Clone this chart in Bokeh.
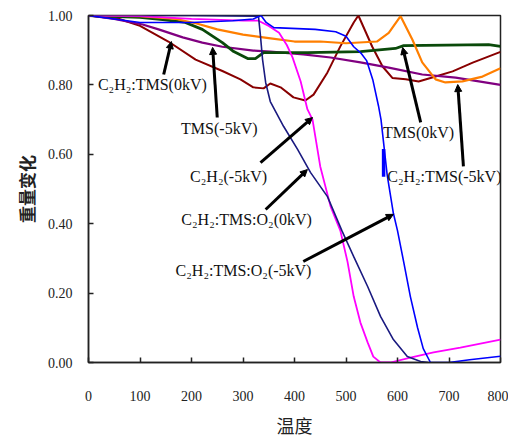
from bokeh.plotting import figure
from bokeh.models import ColumnDataSource, Arrow, NormalHead, FixedTicker, PrintfTickFormatter, Range1d
from bokeh.core.properties import value
from bokeh.embed import file_html
from bokeh.resources import INLINE

# ---- data (temperature, weight-change fraction) ----
red_t = [0, 60, 100, 155, 208, 260, 295, 320, 340, 353, 373, 398, 421, 437, 464, 489, 515, 524, 551, 571, 590, 616, 641, 674, 707, 746, 800]
red_v = [1.0, 0.99, 0.97, 0.925, 0.873, 0.84, 0.816, 0.793, 0.79, 0.804, 0.793, 0.764, 0.755, 0.772, 0.836, 0.911, 0.98, 1.0, 0.91, 0.853, 0.82, 0.816, 0.81, 0.824, 0.839, 0.864, 0.895]

purple_t = [0, 50, 105, 136, 183, 221, 260, 320, 353, 417, 470, 528, 583, 648, 713, 800]
purple_v = [1.0, 0.99, 0.974, 0.96, 0.937, 0.922, 0.91, 0.899, 0.896, 0.888, 0.879, 0.865, 0.85, 0.83, 0.821, 0.80]

green_t = [0, 100, 144, 188, 221, 260, 282, 309, 324, 340, 425, 528, 596, 612, 777, 800]
green_v = [1.0, 0.995, 0.988, 0.98, 0.96, 0.922, 0.896, 0.876, 0.876, 0.893, 0.893, 0.896, 0.905, 0.913, 0.916, 0.911]

orange_t = [0, 100, 170, 210, 250, 300, 350, 400, 450, 500, 560, 583, 606, 629, 648, 674, 693, 726, 765, 800]
orange_v = [1.0, 0.998, 0.99, 0.977, 0.96, 0.945, 0.935, 0.925, 0.925, 0.92, 0.925, 0.95, 0.998, 0.93, 0.865, 0.816, 0.807, 0.81, 0.824, 0.848]

blue_t = [0, 50, 100, 200, 280, 320, 335, 345, 360, 440, 480, 500, 515, 530, 540, 552, 563, 568, 580, 592, 600, 612, 625, 639, 650, 664, 700, 740, 800]
blue_v = [1.0, 0.99, 0.98, 0.98, 0.985, 0.99, 1.0, 0.98, 0.965, 0.96, 0.953, 0.94, 0.91, 0.89, 0.87, 0.815, 0.74, 0.70, 0.54, 0.43, 0.38, 0.29, 0.19, 0.10, 0.04, 0.0, 0.0, 0.008, 0.018]
blue_blip_t = [573, 573]
blue_blip_v = [0.615, 0.535]

navy_t = [0, 200, 330, 334, 338, 344, 353, 379, 406, 431, 464, 492, 515, 542, 567, 592, 619, 645, 660]
navy_v = [1.0, 1.0, 0.998, 0.94, 0.873, 0.807, 0.752, 0.68, 0.614, 0.548, 0.478, 0.38, 0.305, 0.219, 0.133, 0.066, 0.017, 0.003, 0.0]

magenta_t = [0, 100, 200, 300, 330, 350, 370, 385, 396, 412, 425, 435, 450, 470, 489, 503, 515, 528, 542, 553, 567, 586, 625, 670, 722, 800]
magenta_v = [1.0, 0.998, 0.99, 0.985, 0.985, 0.97, 0.95, 0.915, 0.88, 0.81, 0.73, 0.70, 0.565, 0.45, 0.38, 0.29, 0.19, 0.115, 0.058, 0.017, 0.0, 0.0, 0.014, 0.029, 0.043, 0.066]

x_ticks = [0, 100, 200, 300, 400, 500, 600, 700, 800]
y_ticks = [0.0, 0.2, 0.4, 0.6, 0.8, 1.0]

# annotations: label text, label position, arrow start, arrow tip
ann_text = ["C₂H₂:TMS(0kV)", "TMS(-5kV)", "C₂H₂(-5kV)", "C₂H₂:TMS:O₂(0kV)", "C₂H₂:TMS:O₂(-5kV)", "TMS(0kV)", "C₂H₂:TMS(-5kV)"]
ann_x = [124, 254, 272, 307, 301, 641, 691]
ann_y = [0.80, 0.674, 0.536, 0.412, 0.265, 0.663, 0.536]
arr_x0 = [146, 250, 334, 344, 417, 645, 728]
arr_y0 = [0.83, 0.706, 0.576, 0.441, 0.291, 0.692, 0.565]
arr_x1 = [161, 241, 435, 425, 592, 610, 717]
arr_y1 = [0.925, 0.908, 0.706, 0.556, 0.427, 0.908, 0.801]

SERIF = "Times New Roman"

p = figure(frame_width=412, frame_height=347, output_backend="svg", toolbar_location=None,
           x_range=Range1d(0, 800), y_range=Range1d(0, 1.0),
           min_border_left=88, min_border_right=8, min_border_top=15, min_border_bottom=76)
p.background_fill_color = "white"
p.border_fill_color = "white"
p.outline_line_color = "#222222"
p.outline_line_width = 1.5
p.xgrid.visible = False
p.ygrid.visible = False

series = [
    (red_t, red_v, "#880000", 2),
    (purple_t, purple_v, "#800080", 2.2),
    (green_t, green_v, "#0a4a0a", 2.8),
    (orange_t, orange_v, "#ff7f00", 2.2),
    (magenta_t, magenta_v, "#ff00ff", 1.8),
    (navy_t, navy_v, "#1a1a80", 1.6),
    (blue_t, blue_v, "#0000ff", 1.6),
    (blue_blip_t, blue_blip_v, "#0000ff", 3.5),
]
for t, v, c, w in series:
    p.line(t, v, line_color=c, line_width=w)

for i in range(len(ann_text)):
    p.add_layout(Arrow(end=NormalHead(size=7, fill_color="black", line_color="black"),
                       x_start=arr_x0[i], y_start=arr_y0[i], x_end=arr_x1[i], y_end=arr_y1[i],
                       line_color="black", line_width=3))

src = ColumnDataSource(dict(x=ann_x, y=ann_y, t=ann_text))
p.text(x="x", y="y", text="t", source=src, text_font=value(SERIF),
       text_font_size="16px", text_align="center", text_baseline="middle", text_color="#111111")

for ax in (p.xaxis[0], p.yaxis[0]):
    ax.axis_line_color = "#222222"
    ax.axis_line_width = 1.5
    ax.major_tick_in = 5
    ax.major_tick_out = 0
    ax.minor_tick_in = 0
    ax.minor_tick_out = 0
    ax.major_tick_line_color = "#222222"
    ax.major_tick_line_width = 1.5
    ax.major_label_text_font = "serif"
    ax.major_label_text_font_size = "14px"
    ax.major_label_text_color = "#222222"

p.xaxis.ticker = FixedTicker(ticks=x_ticks)
p.yaxis.ticker = FixedTicker(ticks=y_ticks)
p.yaxis.formatter = PrintfTickFormatter(format="%.2f")
p.xaxis.major_label_standoff = 28
p.yaxis.major_label_standoff = 16

p.yaxis.axis_label = "重量变化"
p.yaxis.axis_label_text_font = "Noto Sans CJK SC"
p.yaxis.axis_label_text_font_size = "17px"
p.yaxis.axis_label_text_font_style = "bold"
p.yaxis.axis_label_text_color = "#222222"
p.yaxis.axis_label_standoff = 6

p.xaxis.axis_label = "温度"
p.xaxis.axis_label_text_font = "Noto Sans CJK SC"
p.xaxis.axis_label_text_font_size = "18px"
p.xaxis.axis_label_text_font_style = "normal"
p.xaxis.axis_label_text_color = "#222222"
p.xaxis.axis_label_standoff = 8

open("out.html", "w").write(file_html(p, INLINE))
